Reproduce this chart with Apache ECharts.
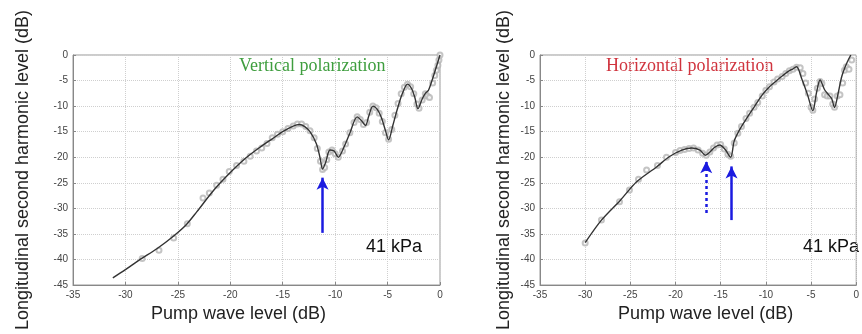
<!DOCTYPE html>
<html>
<head>
<meta charset="utf-8">
<script src="https://cdn.jsdelivr.net/npm/echarts@6/dist/echarts.min.js"></script>
<style>
  html, body { margin: 0; padding: 0; background: #fff; }
  #chart { width: 862px; height: 334px; }
</style>
</head>
<body>
<div id="chart"></div>
<script>
// Vertical polarization: fitted curve + measured points
const vertFitX = [-31.2, -30, -28.6, -27, -25.4, -24.2, -23.2, -21.6, -20, -18.6, -17.2, -16, -15, -14, -13.4, -12.9, -12.4, -11.8, -11.45, -11.2, -10.9, -10.5, -10.1, -9.7, -9.2, -8.6, -7.9, -7.5, -7.1, -6.8, -6.4, -6.0, -5.6, -5.2, -4.9, -4.5, -4.1, -3.6, -3.1, -2.7, -2.4, -2.1, -1.7, -1.4, -1.1, -0.7, -0.3, 0];
const vertFitY = [-43.6, -42.0, -40.0, -37.9, -35.4, -33.2, -30.7, -26.5, -23.0, -20.3, -18.1, -16.4, -15.0, -13.9, -13.6, -14.0, -15.0, -17.3, -20.0, -22.3, -21.0, -18.6, -18.8, -20.0, -18.2, -15.3, -12.1, -12.8, -13.8, -12.0, -10.0, -10.6, -12.2, -14.8, -16.6, -13.8, -10.8, -7.6, -5.7, -6.6, -8.3, -10.5, -8.6, -7.5, -6.9, -4.6, -2.0, 0];
const vertPtsX = [-28.4, -26.8, -25.4, -24.1, -22.6, -22.0, -21.3, -20.7, -20.1, -19.4, -18.7, -18.1, -17.5, -17.0, -16.5, -16.0, -15.5, -15.0, -14.5, -14.0, -13.6, -13.2, -12.8, -12.4, -12.0, -11.7, -11.4, -11.2, -11.0, -10.8, -10.6, -10.3, -10.0, -9.7, -9.3, -9.0, -8.6, -8.2, -7.9, -7.6, -7.3, -7.0, -6.7, -6.4, -6.1, -5.8, -5.5, -5.2, -4.9, -4.6, -4.3, -4.0, -3.7, -3.4, -3.1, -2.8, -2.5, -2.2, -2.0, -1.7, -1.4, -1.2, -1.0, -0.7, -0.5, -0.35, -0.2, -0.1, 0];
const vertPtsY = [-39.8, -38.2, -35.8, -33.0, -28.0, -27.0, -25.5, -24.3, -22.8, -21.6, -20.8, -19.8, -18.8, -18.2, -17.3, -16.2, -15.5, -15.0, -14.4, -13.9, -13.5, -13.5, -14.0, -14.8, -16.2, -18.3, -20.8, -22.4, -22.0, -20.5, -19.0, -18.6, -19.3, -20.0, -18.8, -17.4, -15.2, -13.2, -12.1, -12.6, -13.6, -13.2, -11.2, -10.0, -10.3, -11.4, -13.0, -15.2, -16.5, -14.6, -11.8, -9.5, -7.6, -6.3, -5.7, -6.2, -7.6, -9.6, -10.4, -8.8, -7.6, -8.0, -8.3, -5.5, -4.0, -3.0, -2.0, -1.0, 0];

// Horizontal polarization: fitted curve + measured points
const horFitX = [-30, -28.2, -26.1, -24.3, -22.1, -20.7, -19.3, -18.2, -17.3, -16.7, -16.2, -15.7, -15.1, -14.5, -13.9, -13.5, -12.9, -12.2, -11.3, -10.4, -9.6, -8.6, -7.6, -7.0, -6.6, -6.0, -5.4, -4.8, -4.4, -4.0, -3.5, -3.0, -2.7, -2.4, -2.0, -1.6, -1.1, -0.6];
const horFitY = [-36.7, -32.3, -28.4, -24.8, -21.9, -19.9, -18.6, -18.2, -18.6, -19.6, -19.0, -18.1, -17.6, -18.5, -20.0, -16.8, -14.6, -12.6, -10.2, -7.8, -6.2, -4.7, -3.3, -2.7, -2.3, -4.8, -7.7, -10.9, -7.4, -4.9, -6.8, -7.9, -8.6, -10.3, -7.5, -4.2, -1.8, 0];
const horPtsX = [-30.0, -28.2, -26.2, -25.1, -24.1, -23.2, -22.0, -21.0, -20.0, -19.5, -19.0, -18.5, -18.0, -17.5, -17.0, -16.6, -16.2, -15.8, -15.4, -15.0, -14.6, -14.2, -13.9, -13.5, -13.1, -12.7, -12.2, -11.8, -11.3, -10.9, -10.4, -10.0, -9.6, -9.1, -8.7, -8.2, -7.8, -7.4, -7.0, -6.6, -6.2, -5.9, -5.6, -5.3, -5.0, -4.8, -4.6, -4.3, -4.0, -3.8, -3.5, -3.2, -2.9, -2.6, -2.4, -2.1, -1.8, -1.5, -1.3, -1.1, -0.8, -0.5];
const horPtsY = [-36.8, -32.3, -28.7, -26.4, -24.3, -22.5, -21.6, -20.0, -19.1, -18.7, -18.5, -18.3, -18.2, -18.6, -19.2, -19.6, -19.0, -18.2, -17.6, -17.5, -18.4, -19.4, -19.8, -17.2, -15.3, -14.0, -12.4, -11.4, -10.2, -9.3, -8.0, -6.9, -6.2, -5.3, -4.7, -4.2, -3.6, -3.1, -2.8, -2.4, -2.5, -3.6, -5.5, -7.5, -10.2, -10.8, -8.6, -6.5, -5.2, -5.6, -7.8, -8.0, -8.0, -9.6, -10.2, -8.0, -7.8, -5.5, -3.0, -2.3, -2.8, -1.0];

// arrows: [x, yTail, yTip]
const vertArrow = [-11.2, -34.8, -24.0];
const horArrowSolid = [-13.8, -32.3, -21.8];
const horArrowDotted = [-16.6, -30.9, -20.8];

const xTicks = { min: -35, max: 0, interval: 5 };
const yTicks = { min: -45, max: 0, interval: 5 };

const zip = (xs, ys) => xs.map((x, i) => [x, ys[i]]);

const chart = echarts.init(document.getElementById("chart"));

const sansFont = "Liberation Sans, Arial, sans-serif";
const serifFont = "Liberation Serif, Times New Roman, serif";
const arrowBlue = "#1b1be0";

function xAxisFor(gridIndex, namePadding) {
  return {
    gridIndex,
    type: "value",
    ...xTicks,
    name: "Pump wave level (dB)",
    nameLocation: "middle",
    nameGap: 19,
    nameTextStyle: { fontFamily: sansFont, fontSize: 18, color: "#222", padding: namePadding },
    axisLine: { show: true, onZero: false, lineStyle: { color: "#888", width: 1 } },
    axisTick: { inside: true, length: 3, lineStyle: { color: "#888" } },
    axisLabel: { fontFamily: sansFont, fontSize: 10, color: "#444", margin: 5, showMinLabel: true },
    splitLine: { show: true, lineStyle: { color: "#cfcfcf", type: "dotted", width: 1 } },
  };
}

function yAxisFor(gridIndex, nameGap) {
  return {
    gridIndex,
    type: "value",
    ...yTicks,
    name: "Longitudinal second harmonic level (dB)",
    nameLocation: "middle",
    nameRotate: 90,
    nameGap,
    nameTextStyle: { fontFamily: sansFont, fontSize: 18, color: "#222" },
    axisLine: { show: true, onZero: false, lineStyle: { color: "#888", width: 1 } },
    axisTick: { inside: true, length: 3, lineStyle: { color: "#888" } },
    axisLabel: { fontFamily: sansFont, fontSize: 10, color: "#444", margin: 5 },
    splitLine: { show: true, lineStyle: { color: "#cfcfcf", type: "dotted", width: 1 } },
  };
}

function arrowLine(a) {
  return [
    { coord: [a[0], a[1]], symbol: "none" },
    { coord: [a[0], a[2]], symbol: "arrow" },
  ];
}

function arrowMark(lines, dotted) {
  return {
    silent: true,
    symbolSize: [9, 12],
    label: { show: false },
    lineStyle: { color: arrowBlue, width: 2.5, type: dotted ? [3, 3] : "solid" },
    data: lines,
  };
}

const option = {
  animation: false,
  backgroundColor: "#fff",
  grid: [
    { left: 73, top: 55, width: 367, height: 230, show: true, borderColor: "#999", borderWidth: 1 },
    { left: 540, top: 55, width: 327, height: 230, show: true, borderColor: "#999", borderWidth: 1 },
  ],
  xAxis: [xAxisFor(0, [0, 36, 0, 0]), xAxisFor(1, [0, 0, 0, 15])],
  yAxis: [yAxisFor(0, 41), yAxisFor(1, 27)],
  graphic: [
    { type: "text", left: 239, top: 57, style: { text: "Vertical polarization", font: "18px " + serifFont, fill: "#3f9e3f" } },
    { type: "text", left: 606, top: 57, style: { text: "Horizontal polarization", font: "18px " + serifFont, fill: "#d0343e" } },
    { type: "text", left: 366, top: 238, style: { text: "41 kPa", font: "18px " + sansFont, fill: "#111" } },
    { type: "text", left: 803, top: 238, style: { text: "41 kPa", font: "18px " + sansFont, fill: "#111" } },
  ],
  series: [
    {
      type: "scatter", xAxisIndex: 0, yAxisIndex: 0,
      data: zip(vertPtsX, vertPtsY),
      symbol: "emptyCircle", symbolSize: 5,
      itemStyle: { color: "#b5b5b5", borderWidth: 0.7 },
    },
    {
      type: "line", xAxisIndex: 0, yAxisIndex: 0,
      data: zip(vertFitX, vertFitY),
      showSymbol: false, smooth: 0.3,
      lineStyle: { color: "#333", width: 1.4 },
      markLine: arrowMark([arrowLine(vertArrow)], false),
    },
    {
      type: "scatter", xAxisIndex: 1, yAxisIndex: 1,
      data: zip(horPtsX, horPtsY),
      symbol: "emptyCircle", symbolSize: 5,
      itemStyle: { color: "#b5b5b5", borderWidth: 0.7 },
    },
    {
      type: "line", xAxisIndex: 1, yAxisIndex: 1,
      data: zip(horFitX, horFitY),
      showSymbol: false, smooth: 0.3,
      lineStyle: { color: "#333", width: 1.4 },
      markLine: arrowMark([arrowLine(horArrowSolid)], false),
    },
    {
      type: "line", xAxisIndex: 1, yAxisIndex: 1,
      data: [],
      markLine: arrowMark([arrowLine(horArrowDotted)], true),
    },
  ],
};

chart.setOption(option);
</script>
</body>
</html>
